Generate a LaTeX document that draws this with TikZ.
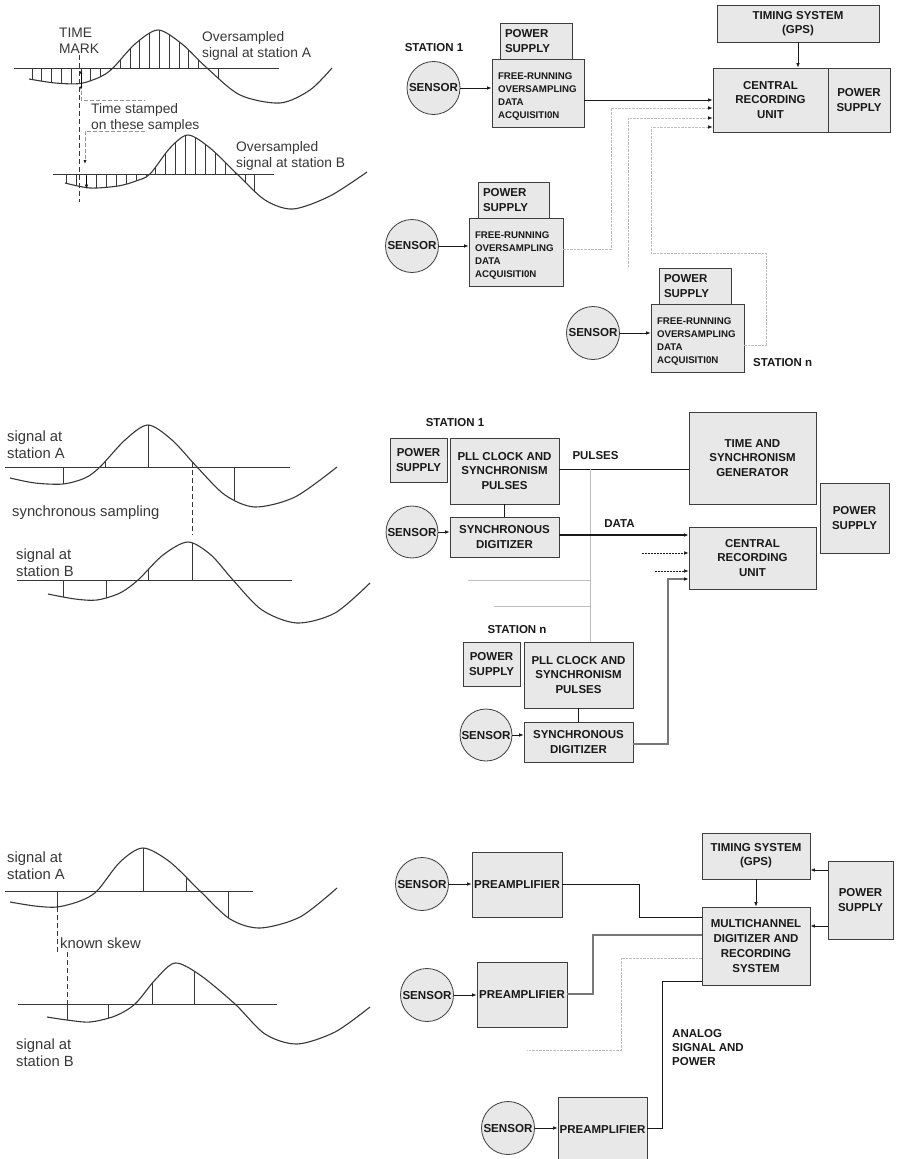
\documentclass[tikz,border=0pt]{standalone}
\usepackage{fontspec}
\setmainfont{Liberation Sans}
\usetikzlibrary{arrows.meta,calc}

\definecolor{boxfill}{RGB}{232,232,232}
\definecolor{edge}{RGB}{62,62,62}
\definecolor{ink}{RGB}{25,25,25}
\definecolor{faint}{RGB}{190,190,190}
\definecolor{midgray}{RGB}{120,120,120}
\definecolor{softink}{RGB}{55,55,55}

\newcommand{\blkfont}{\fontsize{11.5}{14.3}\selectfont\bfseries}
\newcommand{\frfont}{\fontsize{9.7}{13.3}\selectfont\bfseries}
\newcommand{\senfont}{\fontsize{11.6}{13}\selectfont\bfseries}
\newcommand{\sigfontA}{\fontsize{13.8}{16}\selectfont}
\newcommand{\sigfontB}{\fontsize{14.8}{17}\selectfont}

% #1 curve points, #2 zero level, #3 first x, #4 last x, #5 sample positions
\newcommand{\sigwave}[5]{%
  \begin{scope}
    \clip plot[smooth] coordinates {#1} -- (#4,#2) -- (#3,#2) -- cycle;
    \foreach \s in {#5} \draw[smp] (\s,#2-70) -- (\s,#2+70);
  \end{scope}
  \draw[wav] plot[smooth] coordinates {#1};
}

\begin{document}
\begin{tikzpicture}[x=1pt,y=-1pt,
  blk/.style={draw=edge, fill=boxfill, line width=0.8pt, inner sep=0pt,
              align=center, font=\blkfont, text=ink},
  bx/.style 2 args={blk, minimum width=#1, minimum height=#2},
  frx/.style 2 args={blk, font=\frfont, align=left, inner xsep=6pt,
              text width=#1, minimum height=#2,
              execute at begin node={\rule{0pt}{14pt}}},
  psx/.style 2 args={blk, align=left, inner xsep=5pt,
              text width=#1, minimum height=#2},
  sens/.style={circle, draw=edge, fill=boxfill, line width=0.8pt,
              minimum size=53pt, inner sep=0pt, font=\senfont, text=ink},
  lbl/.style={font=\blkfont, text=ink, inner sep=0pt, align=left},
  sigA/.style={font=\sigfontA, text=softink, inner sep=0pt, align=left, anchor=west},
  sigB/.style={font=\sigfontB, text=softink, inner sep=0pt, align=left, anchor=west},
  wire/.style={draw=ink, line width=0.8pt},
  thickwire/.style={draw=ink, line width=1.3pt},
  graywire/.style={draw=midgray, line width=1.2pt},
  faintline/.style={draw=faint, line width=0.7pt, dash pattern=on 2.5pt off 1pt},
  faintsolid/.style={draw=faint, line width=0.8pt},
  leader/.style={draw=midgray!80, line width=0.9pt, dash pattern=on 4pt off 2pt},
  markline/.style={draw=softink, line width=0.8pt, dash pattern=on 5pt off 3pt},
  shortdash/.style={draw=ink, line width=0.6pt, dash pattern=on 2pt off 1pt},
  arr/.style={-{Latex[length=4.5pt,width=3.6pt,color=ink]}},
  dblarr/.style={{Latex[length=3.5pt,width=3pt,color=ink]}-{Latex[length=3.5pt,width=3pt,color=ink]}},
  wav/.style={draw=softink, line width=1.1pt},
  smp/.style={draw=softink, line width=0.8pt},
  zeroline/.style={draw=softink, line width=0.9pt}]

\useasboundingbox (0,0) rectangle (905,1159);

% ---------- oversampled signals with time stamps ----------
\draw[zeroline] (14,68) -- (279,68);
\sigwave{(29,79) (55,83) (80,83.5) (100,77) (113,68) (135,44) (158,30) (182,44) (207,68) (240,95) (280,103) (310,90) (332,68)}{68}{29}{332}{32,41.8,51.6,61.4,71.2,81,90.8,100.6,110.4,120.2,130,139.8,149.6,159.4,169.2,179,188.8,198.6,208.4,218.2}
\draw[zeroline] (53,174) -- (274,174);
\sigwave{(65,183) (90,188) (118,186) (136,181) (150,174) (170,148) (188,135) (210,148) (237,174) (265,200) (293,209) (330,196) (367,172)}{174}{65}{367}{66.7,76.6,86.5,96.4,106.3,116.2,126.1,136,145.9,155.8,165.7,175.6,185.5,195.4,205.3,215.2,225.1,235,244.9,254.8}

\draw[markline] (79,55) -- (79,202);
\draw[dblarr, line width=0.8pt] (81,70) -- (81,90);
\draw[arr, line width=0.8pt] (86.5,176) -- (86.5,189);
\draw[leader] (81,91) -- (81,100) -- (145,100);
\draw[leader, -{Latex[length=4pt,width=3.2pt,color=ink]}] (145,131) -- (85,131) -- (85,164);

\node[sigA] (tmark) at (59,41) {TIME\\MARK};
\node[sigA] (osA) at (202,46) {Oversampled\\signal at station A};
\node[sigA] (tstamp) at (91,117.5) {Time stamped\\on these samples};
\node[sigA] (osB) at (236,155.5) {Oversampled\\signal at station B};

% ---------- synchronous sampling ----------
\draw[zeroline] (5,467) -- (290,467);
\sigwave{(10,478) (35,483) (63,484) (85,478) (100,467) (125,440) (148,425) (172,440) (197,467) (225,495) (255,507) (295,497) (337,467)}{467}{10}{337}{63,105,148,192,234}
\draw[zeroline] (17,580) -- (292,580);
\sigwave{(48,594) (75,599) (97,600) (120,593) (138,580) (163,555) (188,542) (211,555) (233,580) (262,610) (297,623) (335,613) (370,583)}{580}{48}{370}{63,106,148,192}
\draw[markline] (192,470) -- (192,535);

\node[sigB] (sA2) at (7,445) {signal at\\station A};
\node[sigB] (sync) at (12,513) {synchronous sampling};
\node[sigB] (sB2) at (16,562.5) {signal at\\station B};

% ---------- known skew ----------
\draw[zeroline] (5,891) -- (253,891);
\sigwave{(10,902) (35,906) (57,907) (80,901) (97,891) (120,862) (143,848) (170,862) (200,891) (230,919) (260,928) (300,917) (337,888)}{891}{10}{337}{57,143,186,228}
\draw[zeroline] (18,1004) -- (277,1004);
\sigwave{(47,1017) (67,1020) (90,1022) (115,1016) (135,1004) (155,980) (175,963) (200,975) (235,1004) (265,1034) (297,1044) (335,1032) (370,1007)}{1004}{47}{370}{67,108,152,194}
\draw[markline] (57,907) -- (57,953);
\draw[markline] (67,952) -- (67,1020);

\node[sigB] (sA3) at (7,866) {signal at\\station A};
\node[sigB] (skew) at (60,943) {known skew};
\node[sigB] (sB3) at (16,1053) {signal at\\station B};

% ---------- free-running stations ----------
\node[bx={162pt}{37pt}] (gps1) at (798,23.5) {TIMING SYSTEM\\(GPS)};
\node[bx={115pt}{64pt}] (cru1) at (770.5,100) {CENTRAL\\RECORDING\\UNIT};
\node[bx={62pt}{64pt}] (psc1) at (859,100) {POWER\\SUPPLY};
\draw[wire,arr] (gps1) -- (gps1 |- cru1.north);

\node[lbl] (st1) at (434,48) {STATION 1};
\node[psx={62pt}{36pt}] (ps1) at (536,41) {POWER\\SUPPLY};
\node[frx={80pt}{68pt}] (fr1) at (538,93) {FREE-RUNNING\\OVERSAMPLING\\DATA\\ACQUISITI0N};
\node[sens] (s1) at (433.5,88) {SENSOR};
\draw[wire,arr] (s1.east) -- (s1.east -| fr1.west);
\draw[wire,arr] (fr1.east |- cru1.west) -- (cru1.west);

\node[psx={61pt}{36pt}] (ps2) at (513.5,200) {POWER\\SUPPLY};
\node[frx={82pt}{68pt}] (fr2) at (516,252) {FREE-RUNNING\\OVERSAMPLING\\DATA\\ACQUISITI0N};
\node[sens] (s2) at (412,246) {SENSOR};
\draw[wire,arr] (s2.east) -- (s2.east -| fr2.west);

\node[psx={62pt}{36pt}] (ps3) at (695,286) {POWER\\SUPPLY};
\node[frx={81pt}{68pt}] (fr3) at (697.5,338) {FREE-RUNNING\\OVERSAMPLING\\DATA\\ACQUISITI0N};
\node[sens] (s3) at (593,333) {SENSOR};
\draw[wire,arr] (s3.east) -- (s3.east -| fr3.west);
\node[lbl, anchor=west] (stn1) at (753,363) {STATION n};

\coordinate (b1) at (611,249);
\coordinate (b2) at (611,108);
\draw[faintline,arr] (fr2.east |- b1) -- (b1) -- (b2) -- (cru1.west |- b2);
\coordinate (b3) at (628,267);
\coordinate (b4) at (628,118);
\draw[faintline,arr] (b3) -- (b4) -- (cru1.west |- b4);
\coordinate (b5) at (766,345);
\coordinate (b6) at (766,253);
\coordinate (b7) at (651,253);
\coordinate (b8) at (651,127);
\draw[faintline,arr] (fr3.east |- b5) -- (b5) -- (b6) -- (b7) -- (b8) -- (cru1.west |- b8);

% ---------- synchronously clocked stations ----------
\node[lbl] (st2) at (455,423) {STATION 1};
\node[bx={57pt}{44pt}] (psm1) at (418.5,460) {POWER\\SUPPLY};
\node[bx={109pt}{66pt}] (pll1) at (504.5,471) {PLL CLOCK AND\\SYNCHRONISM\\PULSES};
\node[bx={109pt}{40pt}] (sd1) at (504.5,537) {SYNCHRONOUS\\DIGITIZER};
\node[sens, minimum size=52pt] (sm1) at (412,532) {SENSOR};
\draw[wire] (pll1) -- (sd1);
\draw[wire,arr] (sm1.east) -- (sm1.east -| sd1.west);

\node[bx={127pt}{92pt}] (tsg) at (752.5,458) {TIME AND\\SYNCHRONISM\\GENERATOR};
\node[bx={127pt}{62pt}] (crum) at (752.5,558) {CENTRAL\\RECORDING\\UNIT};
\node[bx={69pt}{70pt}] (psm0) at (854.5,518) {POWER\\SUPPLY};
\node[lbl] (pul) at (595.5,456) {PULSES};
\node[lbl] (dat) at (619.5,524) {DATA};

\node[lbl] (st3) at (517,630) {STATION n};
\node[bx={57pt}{44pt}] (psmn) at (491.5,664) {POWER\\SUPPLY};
\node[bx={109pt}{66pt}] (plln) at (578.5,675) {PLL CLOCK AND\\SYNCHRONISM\\PULSES};
\node[bx={109pt}{40pt}] (sdn) at (578.5,742) {SYNCHRONOUS\\DIGITIZER};
\node[sens, minimum size=52pt] (smn) at (486,735) {SENSOR};
\draw[wire] (plln) -- (sdn);
\draw[wire,arr] (smn.east) -- (smn.east -| sdn.west);

\coordinate (p0) at (590,469);
\draw[wire] (pll1.east |- p0) -- (tsg.west |- p0);
\draw[faintsolid] (p0) -- (p0 |- plln.north);
\coordinate (q1) at (468,580);
\coordinate (q2) at (494,606);
\draw[faintsolid] (q1) -- (q1 -| p0);
\draw[faintsolid] (q2) -- (q2 -| p0);

\coordinate (d0) at (600,535);
\draw[thickwire,arr] (sd1.east |- d0) -- (crum.west |- d0);
\coordinate (e1) at (642,553);
\coordinate (e2) at (655,571);
\draw[shortdash,arr] (e1) -- (crum.west |- e1);
\draw[shortdash,arr] (e2) -- (crum.west |- e2);
\coordinate (f1) at (668,744);
\coordinate (f2) at (668,579);
\draw[graywire,arr] (sdn.east |- f1) -- (f1) -- (f2) -- (crum.west |- f2);

% ---------- analog transmission to a central digitizer ----------
\node[bx={108pt}{46pt}] (gps3) at (756,856) {TIMING SYSTEM\\(GPS)};
\node[bx={108pt}{78pt}, font=\fontsize{11.5}{15}\selectfont\bfseries] (mc) at (756,946) {MULTICHANNEL\\DIGITIZER AND\\RECORDING\\SYSTEM};
\node[bx={65pt}{78pt}] (psb) at (860.5,900) {POWER\\SUPPLY};
\draw[wire,arr] (gps3) -- (gps3 |- mc.north);
\coordinate (k1) at (828,870);
\coordinate (k2) at (828,926);
\draw[wire,arr] (psb.west |- k1) -- (gps3.east |- k1);
\draw[wire,arr] (psb.west |- k2) -- (mc.east |- k2);

\node[sens] (sb1) at (422,884) {SENSOR};
\node[bx={90pt}{65pt}] (pa1) at (517,884.5) {PREAMPLIFIER};
\draw[wire,arr] (sb1.east) -- (sb1.east -| pa1.west);
\coordinate (h1) at (639,884);
\coordinate (h2) at (639,917);
\draw[wire] (pa1.east |- h1) -- (h1) -- (h2) -- (mc.west |- h2);

\node[sens] (sb2) at (427,995) {SENSOR};
\node[bx={90pt}{65pt}] (pa2) at (522,994.5) {PREAMPLIFIER};
\draw[wire,arr] (sb2.east) -- (sb2.east -| pa2.west);
\coordinate (m1) at (593,935);
\coordinate (m2) at (593,994);
\draw[graywire] (mc.west |- m1) -- (m1) -- (m2) -- (pa2.east |- m2);

\coordinate (n1) at (621,958);
\coordinate (n2) at (621,1050);
\coordinate (n3) at (527,1050);
\draw[faintline] (mc.west |- n1) -- (n1) -- (n2) -- (n3);

\node[sens] (sb3) at (508,1128) {SENSOR};
\node[bx={89pt}{65pt}] (pa3) at (602.5,1129.5) {PREAMPLIFIER};
\draw[wire,arr] (sb3.east) -- (sb3.east -| pa3.west);
\coordinate (r1) at (662,981);
\coordinate (r2) at (662,1128);
\draw[wire] (mc.west |- r1) -- (r1) -- (r2) -- (pa3.east |- r2);
\node[lbl, anchor=west] (analog) at (672,1047.5) {ANALOG\\SIGNAL AND\\POWER};

\end{tikzpicture}
\end{document}
